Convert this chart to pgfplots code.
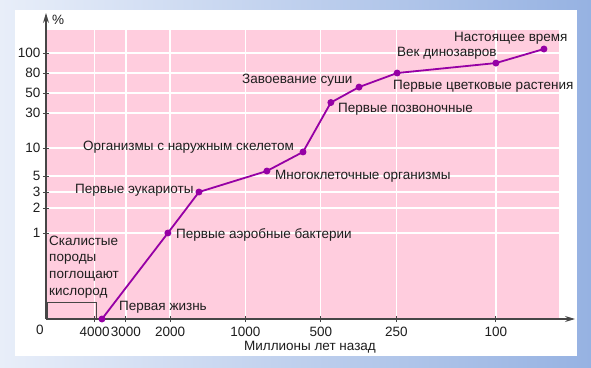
\documentclass[border=0pt]{standalone}
\usepackage{fontspec}
\setmainfont{Liberation Sans}
\usepackage{pgfplots}
\pgfplotsset{compat=1.18}
\usetikzlibrary{arrows.meta}
\definecolor{plotpink}{RGB}{255,205,222}
\definecolor{lineviolet}{RGB}{150,0,165}
\definecolor{bgl}{RGB}{232,238,249}
\definecolor{bgr}{RGB}{150,178,226}
\definecolor{axgray}{RGB}{70,70,70}
\definecolor{txt}{RGB}{30,30,30}
\begin{document}
\fontsize{13.5}{15.5}\selectfont
\begin{tikzpicture}
\begin{scope}[x=1pt,y=1pt]
\shade[left color=bgl, right color=bgr] (-46,-48) rectangle (545,319);
\fill[white] (-31,-37) rectangle (531,309);
\end{scope}
\begin{axis}[
  at={(0pt,0pt)}, anchor=south west,
  scale only axis, width=513pt, height=289pt,
  x coord trafo/.code={\pgfmathparse{-log10(#1)}},
  x coord inv trafo/.code={\pgfmathparse{10^(-#1)}},
  y coord trafo/.code={\pgfmathparse{(#1<1) ? (86*#1) : ((#1<2) ? (86+25*ln(max(#1,0.01))/ln(2)) : ((#1<3) ? (111+16*ln(max(#1,0.01)/2)/ln(1.5)) : ((#1<5) ? (127+16*ln(max(#1,0.01)/3)/ln(5/3)) : ((#1<10) ? (143+28*ln(max(#1,0.01)/5)/ln(2)) : ((#1<30) ? (171+35*ln(max(#1,0.01)/10)/ln(3)) : ((#1<50) ? (206+20*ln(max(#1,0.01)/30)/ln(5/3)) : ((#1<80) ? (226+20*ln(max(#1,0.01)/50)/ln(1.6)) : (246+20*ln(max(#1,0.01)/80)/ln(1.25)))))))))}},
  xmin=6255, xmax=56,
  ymin=0, ymax=129.3,
  axis lines=left,
  axis line style={axgray, line width=1.2pt, -{Stealth[length=10pt,width=6pt]}},
  x axis line style={shorten >=-16pt},
  y axis line style={shorten >=-17pt},
  axis background/.style={fill=plotpink},
  grid=major,
  major grid style={white, line width=1.2pt},
  xtick={4000,3000,2000,1000,500,250,100},
  xticklabels={4000,3000,2000,1000,500,250,100},
  ytick={1,2,3,5,10,30,50,80,100},
  yticklabels={1,2,3,5,10,30,50,80,100},
  yticklabel style={xshift=2pt},
  tick style={axgray, line width=1pt},
  major tick length=6pt,
  tick align=center,
  tick label style={text=txt},
  /pgf/number format/assume math mode=true,
  clip=false,
]
\addplot[lineviolet, line width=1.8pt, mark=*, mark size=2.5pt,
  mark options={fill=lineviolet, draw=lineviolet}]
  coordinates {
  (3740,0) (2040,1) (1533,3) (821,5.66) (589,9.07)
  (456,39.2) (352,57.5) (248,80) (100,89.4) (64.3,104.6)
  };
\end{axis}
\begin{scope}[x=1pt,y=1pt, every node/.style={text=txt, inner sep=0pt, anchor=west}]
\draw[axgray, line width=1pt] (1.5,0) -- (1.5,17) -- (50,17) -- (50,0);
\node at (6,299) {\%};
\node at (408,281) {Настоящее время};
\node at (351,266) {Век динозавров};
\node at (347,233) {Первые цветковые растения};
\node at (292,210) {Первые позвоночные};
\node at (196,239) {Завоевание суши};
\node at (37,172) {Организмы с наружным скелетом};
\node at (229,143) {Многоклеточные организмы};
\node at (29,129) {Первые эукариоты};
\node at (130,84) {Первые аэробные бактерии};
\node[align=left, font=\fontsize{13.5}{16.7}\selectfont] at (3,52) {Скалистые\\породы\\поглощают\\кислород};
\node at (73,12) {Первая жизнь};
\node[anchor=center] at (-6,-11) {0};
\node[anchor=center] at (264,-28) {Миллионы лет назад};
\end{scope}
\end{tikzpicture}
\end{document}
